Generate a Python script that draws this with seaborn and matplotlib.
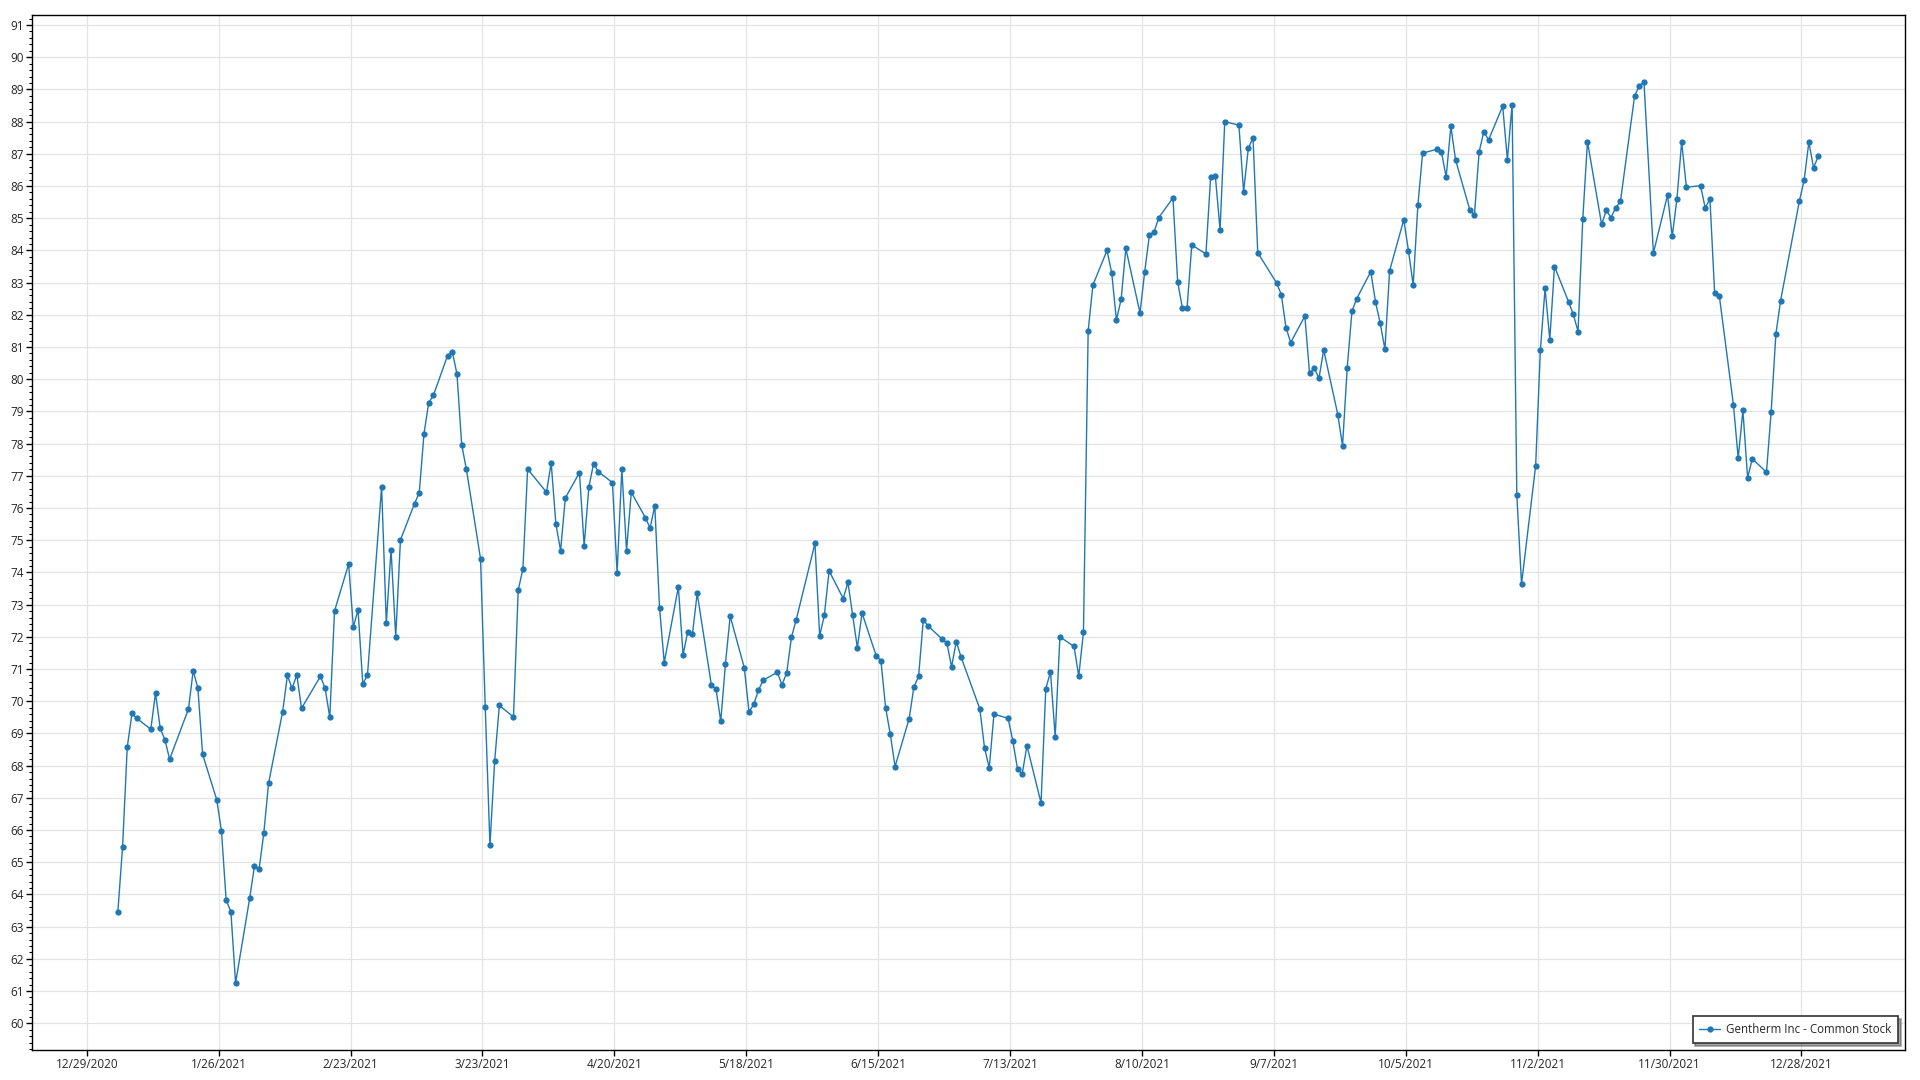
"""
Cotización diaria de Gentherm Inc (2021) con marcadores por sesión.
"""
import matplotlib
matplotlib.use("Agg")
import matplotlib.pyplot as plt
from matplotlib.ticker import MultipleLocator
import pandas as pd
import seaborn as sns

# --- Datos ---
serie = "Gentherm Inc - Common Stock"
hora_cierre = "14:00"  # las sesiones vienen con marca horaria, no a medianoche

fechas = [
    # enero
    "2021-01-04", "2021-01-05", "2021-01-06", "2021-01-07", "2021-01-08",
    "2021-01-11", "2021-01-12", "2021-01-13", "2021-01-14", "2021-01-15",
    "2021-01-19", "2021-01-20", "2021-01-21", "2021-01-22",
    "2021-01-25", "2021-01-26", "2021-01-27", "2021-01-28", "2021-01-29",
    # febrero
    "2021-02-01", "2021-02-02", "2021-02-03", "2021-02-04", "2021-02-05",
    "2021-02-08", "2021-02-09", "2021-02-10", "2021-02-11", "2021-02-12",
    "2021-02-16", "2021-02-17", "2021-02-18", "2021-02-19",
    "2021-02-22", "2021-02-23", "2021-02-24", "2021-02-25", "2021-02-26",
    # marzo
    "2021-03-01", "2021-03-02", "2021-03-03", "2021-03-04", "2021-03-05",
    "2021-03-08", "2021-03-09", "2021-03-10", "2021-03-11", "2021-03-12",
    "2021-03-15", "2021-03-16", "2021-03-17", "2021-03-18", "2021-03-19",
    "2021-03-22", "2021-03-23", "2021-03-24", "2021-03-25", "2021-03-26",
    "2021-03-29", "2021-03-30", "2021-03-31",
    # abril
    "2021-04-01",
    "2021-04-05", "2021-04-06", "2021-04-07", "2021-04-08", "2021-04-09",
    "2021-04-12", "2021-04-13", "2021-04-14", "2021-04-15", "2021-04-16",
    "2021-04-19", "2021-04-20", "2021-04-21", "2021-04-22", "2021-04-23",
    "2021-04-26", "2021-04-27", "2021-04-28", "2021-04-29", "2021-04-30",
    # mayo
    "2021-05-03", "2021-05-04", "2021-05-05", "2021-05-06", "2021-05-07",
    "2021-05-10", "2021-05-11", "2021-05-12", "2021-05-13", "2021-05-14",
    "2021-05-17", "2021-05-18", "2021-05-19", "2021-05-20", "2021-05-21",
    "2021-05-24", "2021-05-25", "2021-05-26", "2021-05-27", "2021-05-28",
    # junio
    "2021-06-01", "2021-06-02", "2021-06-03", "2021-06-04",
    "2021-06-07", "2021-06-08", "2021-06-09", "2021-06-10", "2021-06-11",
    "2021-06-14", "2021-06-15", "2021-06-16", "2021-06-17", "2021-06-18",
    "2021-06-21", "2021-06-22", "2021-06-23", "2021-06-24", "2021-06-25",
    "2021-06-28", "2021-06-29", "2021-06-30",
    # julio
    "2021-07-01", "2021-07-02",
    "2021-07-06", "2021-07-07", "2021-07-08", "2021-07-09",
    "2021-07-12", "2021-07-13", "2021-07-14", "2021-07-15", "2021-07-16",
    "2021-07-19", "2021-07-20", "2021-07-21", "2021-07-22", "2021-07-23",
    "2021-07-26", "2021-07-27", "2021-07-28", "2021-07-29", "2021-07-30",
    # agosto
    "2021-08-02", "2021-08-03", "2021-08-04", "2021-08-05", "2021-08-06",
    "2021-08-09", "2021-08-10", "2021-08-11", "2021-08-12", "2021-08-13",
    "2021-08-16", "2021-08-17", "2021-08-18", "2021-08-19", "2021-08-20",
    "2021-08-23", "2021-08-24", "2021-08-25", "2021-08-26", "2021-08-27",
    "2021-08-30", "2021-08-31",
    # septiembre
    "2021-09-01", "2021-09-02", "2021-09-03",
    "2021-09-07", "2021-09-08", "2021-09-09", "2021-09-10",
    "2021-09-13", "2021-09-14", "2021-09-15", "2021-09-16", "2021-09-17",
    "2021-09-20", "2021-09-21", "2021-09-22", "2021-09-23", "2021-09-24",
    "2021-09-27", "2021-09-28", "2021-09-29", "2021-09-30",
    # octubre
    "2021-10-01",
    "2021-10-04", "2021-10-05", "2021-10-06", "2021-10-07", "2021-10-08",
    "2021-10-11", "2021-10-12", "2021-10-13", "2021-10-14", "2021-10-15",
    "2021-10-18", "2021-10-19", "2021-10-20", "2021-10-21", "2021-10-22",
    "2021-10-25", "2021-10-26", "2021-10-27", "2021-10-28", "2021-10-29",
    # noviembre
    "2021-11-01", "2021-11-02", "2021-11-03", "2021-11-04", "2021-11-05",
    "2021-11-08", "2021-11-09", "2021-11-10", "2021-11-11", "2021-11-12",
    "2021-11-15", "2021-11-16", "2021-11-17", "2021-11-18", "2021-11-19",
    "2021-11-22", "2021-11-23", "2021-11-24", "2021-11-26",
    "2021-11-29", "2021-11-30",
    # diciembre
    "2021-12-01", "2021-12-02", "2021-12-03",
    "2021-12-06", "2021-12-07", "2021-12-08", "2021-12-09", "2021-12-10",
    "2021-12-13", "2021-12-14", "2021-12-15", "2021-12-16", "2021-12-17",
    "2021-12-20", "2021-12-21", "2021-12-22", "2021-12-23",
    "2021-12-27", "2021-12-28", "2021-12-29", "2021-12-30", "2021-12-31",
]

precios = [
    # enero
    63.45, 65.46, 68.57, 69.62, 69.47,
    69.13, 70.25, 69.16, 68.80, 68.20,
    69.76, 70.95, 70.40, 68.35,
    66.94, 65.97, 63.82, 63.47, 61.25,
    # febrero
    63.89, 64.87, 64.79, 65.92, 67.45,
    69.68, 70.80, 70.40, 70.82, 69.78,
    70.77, 70.41, 69.50, 72.80,
    74.26, 72.30, 72.84, 70.54, 70.81,
    # marzo
    76.66, 72.42, 74.71, 72.00, 75.01,
    76.14, 76.48, 78.31, 79.27, 79.50,
    80.73, 80.86, 80.16, 77.97, 77.20,
    74.43, 69.82, 65.52, 68.14, 69.87,
    69.51, 73.45, 74.11,
    # abril
    77.21,
    76.49, 77.40, 75.50, 74.68, 76.31,
    77.10, 74.83, 76.65, 77.38, 77.13,
    76.79, 73.99, 77.21, 74.67, 76.49,
    75.70, 75.38, 76.07, 72.91, 71.20,
    # mayo
    73.55, 71.44, 72.16, 72.10, 73.35,
    70.51, 70.37, 69.38, 71.17, 72.64,
    71.04, 69.67, 69.90, 70.34, 70.65,
    70.90, 70.51, 70.88, 71.98, 72.52,
    # junio
    74.90, 72.03, 72.68, 74.05,
    73.19, 73.69, 72.68, 71.66, 72.74,
    71.41, 71.26, 69.80, 68.97, 67.97,
    69.46, 70.44, 70.77, 72.53, 72.34,
    71.93, 71.81, 71.07,
    # julio
    71.85, 71.38,
    69.76, 68.55, 67.93, 69.60,
    69.47, 68.77, 67.90, 67.74, 68.62,
    66.84, 70.39, 70.91, 68.90, 72.00,
    71.70, 70.78, 72.14, 81.50, 82.92,
    # agosto
    84.00, 83.30, 81.84, 82.48, 84.06,
    82.06, 83.33, 84.48, 84.58, 85.02,
    85.63, 83.02, 82.22, 82.22, 84.17,
    83.89, 86.28, 86.31, 84.64, 88.00,
    87.89, 85.82,
    # septiembre
    87.17, 87.50, 83.93,
    82.99, 82.63, 81.60, 81.14,
    81.96, 80.19, 80.34, 80.03, 80.91,
    78.90, 77.93, 80.36, 82.11, 82.50,
    83.34, 82.40, 81.74, 80.93,
    # octubre
    83.37,
    84.95, 83.99, 82.93, 85.41, 87.02,
    87.14, 87.05, 86.28, 87.85, 86.81,
    85.27, 85.09, 87.06, 87.69, 87.43,
    88.48, 86.82, 88.53, 76.41, 73.64,
    # noviembre
    77.31, 80.90, 82.82, 81.23, 83.50,
    82.40, 82.01, 81.48, 84.96, 87.38,
    84.81, 85.24, 85.02, 85.33, 85.52,
    88.79, 89.12, 89.22, 83.92,
    85.72, 84.44,
    # diciembre
    85.61, 87.37, 85.96,
    86.01, 85.32, 85.60, 82.68, 82.58,
    79.19, 77.55, 79.03, 76.94, 77.53,
    77.11, 78.99, 81.40, 82.44,
    85.54, 86.18, 87.36, 86.57, 86.92,
]

ticks_fechas = [
    "2020-12-29", "2021-01-26", "2021-02-23", "2021-03-23", "2021-04-20",
    "2021-05-18", "2021-06-15", "2021-07-13", "2021-08-10", "2021-09-07",
    "2021-10-05", "2021-11-02", "2021-11-30", "2021-12-28",
]
ticks_etiquetas = [
    "12/29/2020", "1/26/2021", "2/23/2021", "3/23/2021", "4/20/2021",
    "5/18/2021", "6/15/2021", "7/13/2021", "8/10/2021", "9/7/2021",
    "10/5/2021", "11/2/2021", "11/30/2021", "12/28/2021",
]

df = pd.DataFrame({
    "fecha": pd.to_datetime([f + " " + hora_cierre for f in fechas]),
    "precio": precios,
})

# --- Gráfico ---
sns.set_style("white")
plt.rcParams["font.family"] = ["Open Sans", "DejaVu Sans"]

fig = plt.figure(figsize=(19.2, 10.8), dpi=100)
ax = fig.add_axes([0.0169, 0.0278, 0.9753, 0.9583])

sns.lineplot(
    data=df, x="fecha", y="precio", ax=ax,
    color="#1f77b4", linewidth=1.0,
    marker="o", markersize=4.5, markeredgewidth=0,
    label=serie,
)

ax.set_xlim(pd.Timestamp("2020-12-17 11:00"), pd.Timestamp("2022-01-19"))
ax.set_ylim(59.17, 91.31)

ax.set_xticks(pd.to_datetime(ticks_fechas))
ax.set_xticklabels(ticks_etiquetas, fontsize=8.5)
ax.yaxis.set_major_locator(MultipleLocator(1))
ax.yaxis.set_minor_locator(MultipleLocator(0.2))
ax.tick_params(axis="y", labelsize=8.5)

ax.tick_params(axis="both", which="major", direction="out", length=4,
               width=1, color="black", pad=2, left=True, bottom=True)
ax.tick_params(axis="y", which="minor", direction="out", length=2,
               width=0.8, color="black", left=True)

ax.grid(True, which="major", color="#e4e4e4", linewidth=0.9)
ax.set_axisbelow(True)

for lado in ax.spines.values():
    lado.set_color("black")
    lado.set_linewidth(1.0)

ax.set_xlabel("")
ax.set_ylabel("")

leg = ax.legend(loc="lower right", fontsize=8.3, frameon=True, fancybox=False,
                shadow=True, framealpha=1, edgecolor="#333333",
                borderaxespad=0.6, handlelength=1.8, handletextpad=0.5,
                borderpad=0.6)
leg.get_frame().set_linewidth(1.2)

plt.savefig("out.png", dpi=100)
plt.close(fig)
